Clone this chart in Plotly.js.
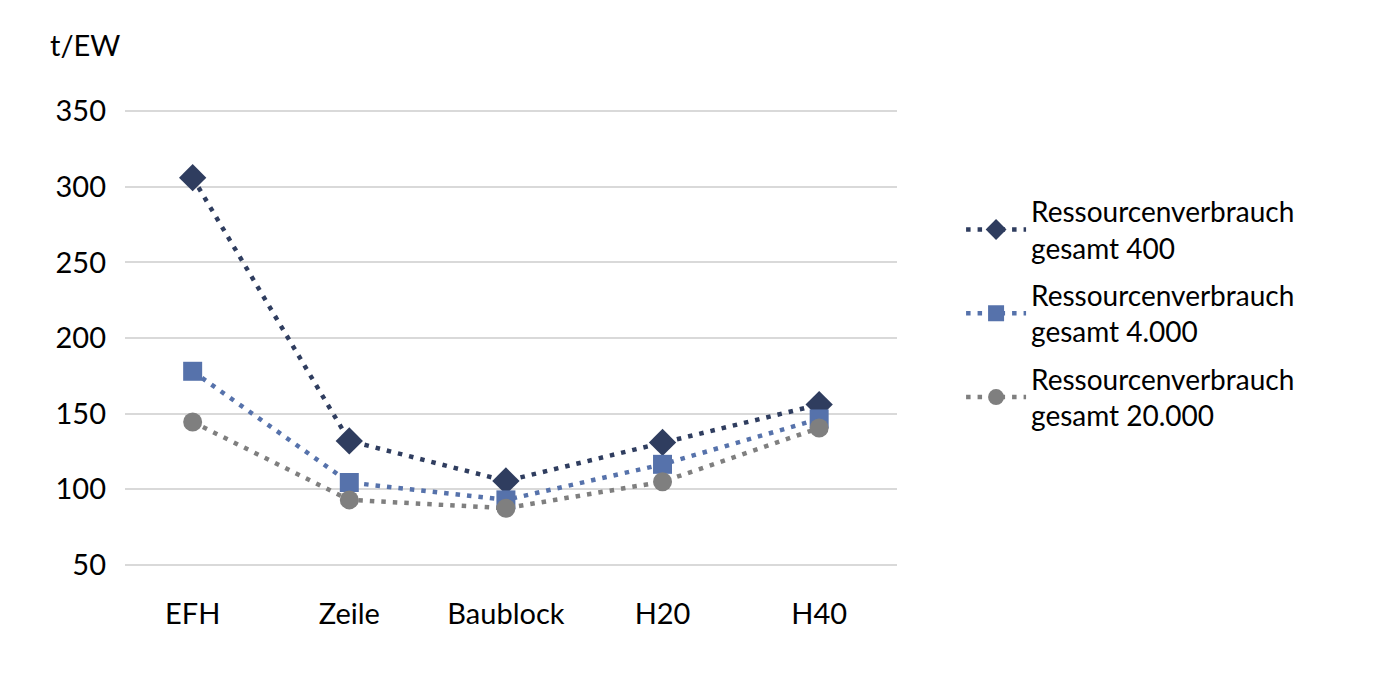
<!DOCTYPE html>
<html>
<head>
<meta charset="utf-8">
<script src="https://cdn.plot.ly/plotly-3.0.1.min.js"></script>
<style>html,body{margin:0;padding:0;background:#fff;}#chart{width:1383px;height:675px;}</style>
</head>
<body>
<div id="chart"></div>
<script>
const categories = ["EFH", "Zeile", "Baublock", "H20", "H40"];
const seriesNames = ["Ressourcenverbrauch<br>gesamt 400", "Ressourcenverbrauch<br>gesamt 4.000", "Ressourcenverbrauch<br>gesamt 20.000"];
const values400 = [306, 132, 105.5, 131, 156];
const values4000 = [178, 104.5, 93, 116.5, 146.5];
const values20000 = [144.5, 93, 87.5, 105, 140.5];
const yTicks = [50, 100, 150, 200, 250, 300, 350];

const colors = ["#2f3d5f", "#5672ab", "#7f7f7f"];
const symbols = ["diamond", "square", "circle"];
const sizes = [21, 19, 19];
const allValues = [values400, values4000, values20000];

const FONT = "Lato, 'Noto Sans', sans-serif";

const traces = allValues.map((vals, i) => ({
  x: categories,
  y: vals,
  name: seriesNames[i],
  type: "scatter",
  mode: "lines+markers",
  legendgroup: "g" + i,
  line: {color: colors[i], width: 4.5, dash: "4.5px,7px"},
  marker: {color: colors[i], symbol: symbols[i], size: sizes[i]}
}));

const layout = {
  width: 1383,
  height: 675,
  paper_bgcolor: "#fff",
  plot_bgcolor: "#fff",
  margin: {l: 125, r: 486, t: 110, b: 109},
  font: {family: FONT, size: 28, color: "#000"},
  showlegend: true,
  legend: {
    x: 1.083, xanchor: "left",
    y: 0.832, yanchor: "top",
    font: {family: FONT, size: 28, color: "#000"},
    traceorder: "grouped",
    tracegroupgap: 8,
    itemwidth: 60,
    bgcolor: "rgba(0,0,0,0)"
  },
  xaxis: {
    type: "category",
    range: [-0.432, 4.497],
    showgrid: false,
    zeroline: false,
    showline: false,
    ticks: "",
    ticklabelstandoff: 28,
    tickfont: {family: FONT, size: 29, color: "#000"},
    fixedrange: true
  },
  yaxis: {
    range: [49.3, 350.7],
    tickvals: yTicks,
    ticktext: yTicks.map(String),
    showgrid: true,
    gridcolor: "#d9d9d9",
    gridwidth: 2,
    zeroline: false,
    showline: false,
    ticks: "",
    ticklabelstandoff: 18,
    tickfont: {family: FONT, size: 29, color: "#000"},
    fixedrange: true
  },
  annotations: [{
    text: "t/EW",
    xref: "paper", yref: "paper",
    x: -0.1, y: 1.143,
    xanchor: "left", yanchor: "middle",
    showarrow: false,
    font: {family: FONT, size: 29, color: "#000"}
  }]
};

Plotly.newPlot("chart", traces, layout, {displayModeBar: false, staticPlot: true});
</script>
</body>
</html>
